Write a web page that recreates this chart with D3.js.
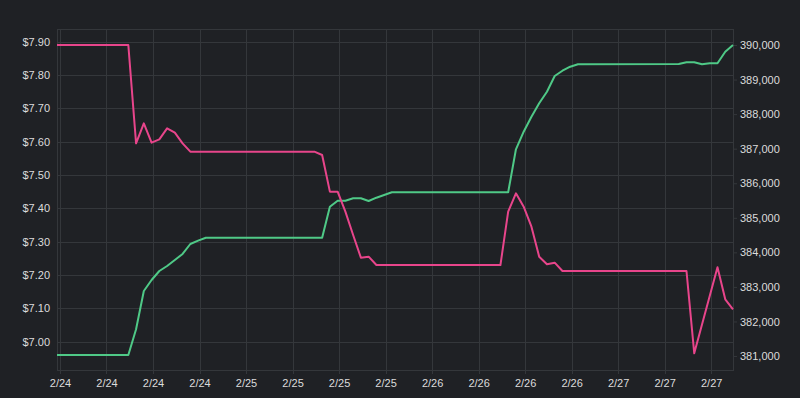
<!DOCTYPE html>
<html>
<head>
<meta charset="utf-8">
<script src="https://cdn.jsdelivr.net/npm/d3@7"></script>
<style>
  html, body { margin: 0; padding: 0; background: #1f2125; }
  svg { display: block; }
  text { font-family: "Liberation Sans", Arial, Helvetica, sans-serif; font-size: 11px; fill: #dcdcdc; }
</style>
</head>
<body>
<svg id="chart" width="800" height="398"></svg>
<script>
// ---- data (hour offsets from 2024-02-24 08:49 UTC) ----
const baseTime = Date.UTC(2024, 1, 24, 8, 49);

const priceHours = [-9.2, 0, 1, 2, 3, 4, 5, 6, 7, 8,
  24, 25, 26, 27, 28, 29, 30, 31, 32,
  48, 49, 50, 51, 52, 53, 54, 55, 56,
  72, 73, 76, 77, 78];
const priceValues = [7.89, 7.89, 7.595, 7.655, 7.597, 7.607, 7.64, 7.627, 7.595, 7.57,
  7.57, 7.56, 7.45, 7.45, 7.39, 7.32, 7.252, 7.255, 7.23,
  7.23, 7.39, 7.445, 7.405, 7.345, 7.255, 7.232, 7.237, 7.212,
  7.212, 6.965, 7.223, 7.127, 7.097];

const countHours = [-9.2, 0, 1, 2, 3, 4, 5, 6, 7, 8, 9, 10,
  25, 26, 27, 28, 29, 30, 31, 32, 33, 34,
  49, 50, 51, 52, 53, 54, 55, 56, 57, 58,
  71, 72, 73, 74, 75, 76, 77, 78];
const countValues = [381030, 381030, 381774, 382882, 383200, 383461, 383605, 383779, 383953, 384242, 384338, 384424,
  384424, 385321, 385495, 385495, 385564, 385564, 385486, 385582, 385660, 385738,
  385738, 386982, 387491, 387925, 388313, 388649, 389103, 389256, 389372, 389442,
  389450, 389500, 389500, 389442, 389470, 389470, 389806, 390000];

const leftTicks = [7.00, 7.10, 7.20, 7.30, 7.40, 7.50, 7.60, 7.70, 7.80, 7.90];
const rightTicks = [381000, 382000, 383000, 384000, 385000, 386000, 387000, 388000, 389000, 390000];
const xTickHours = 6;
const leftDomain = [6.915, 7.938];
const rightDomain = [380596, 390463];

// ---- layout ----
const L = 57, R = 733, T = 29, B = 370;
const gridColor = "#34373b";
const pink = "#e8458b";
const green = "#4fc987";

const svg = d3.select("#chart");
svg.append("rect").attr("width", 800).attr("height", 398).attr("fill", "#1f2125");

const toDate = h => new Date(baseTime + h * 3600000);
const allHours = priceHours.concat(countHours);
const x = d3.scaleUtc()
  .domain([toDate(d3.min(allHours)), toDate(d3.max(allHours))])
  .range([L, R]);
const yL = d3.scaleLinear().domain(leftDomain).range([B, T]);
const yR = d3.scaleLinear().domain(rightDomain).range([B, T]);

const xTicks = x.ticks(d3.utcHour.every(xTickHours));
const fmtX = d3.utcFormat("%-m/%-d");

// grid
const g = svg.append("g");
g.selectAll(".hg").data(leftTicks).join("line")
  .attr("x1", L).attr("x2", R)
  .attr("y1", d => Math.round(yL(d)) + 0.5).attr("y2", d => Math.round(yL(d)) + 0.5)
  .attr("stroke", gridColor).attr("stroke-width", 1);
g.selectAll(".vg").data(xTicks).join("line")
  .attr("x1", d => Math.round(x(d)) + 0.5).attr("x2", d => Math.round(x(d)) + 0.5)
  .attr("y1", T).attr("y2", B + 4)
  .attr("stroke", gridColor).attr("stroke-width", 1);
g.append("rect").attr("x", L + 0.5).attr("y", T + 0.5)
  .attr("width", R - L).attr("height", B - T)
  .attr("fill", "none").attr("stroke", gridColor);

// left axis
const leftAxis = d3.axisLeft(yL).tickValues(leftTicks).tickSize(0).tickPadding(7)
  .tickFormat(d => "$" + d3.format(".2f")(d));
svg.append("g").attr("transform", `translate(${L},0)`).call(leftAxis)
  .call(s => s.select(".domain").remove())
  .call(s => s.selectAll("text").attr("fill", "#dcdcdc").style("font-size", "11px"));

// right axis
const rightAxis = d3.axisRight(yR).tickValues(rightTicks).tickSize(4).tickPadding(3)
  .tickFormat(d3.format(","));
svg.append("g").attr("transform", `translate(${R},0)`).call(rightAxis)
  .call(s => s.select(".domain").remove())
  .call(s => s.selectAll("line").attr("stroke", gridColor))
  .call(s => s.selectAll("text").attr("fill", "#dcdcdc").style("font-size", "11px"));

// bottom axis
const bottomAxis = d3.axisBottom(x).tickValues(xTicks).tickSize(0).tickPadding(9)
  .tickFormat(fmtX);
svg.append("g").attr("transform", `translate(0,${B})`).call(bottomAxis)
  .call(s => s.select(".domain").remove())
  .call(s => s.selectAll("text").attr("fill", "#dcdcdc").style("font-size", "11px"));

// lines
const priceData = priceHours.map((h, i) => ({ t: toDate(h), v: priceValues[i] }));
const countData = countHours.map((h, i) => ({ t: toDate(h), v: countValues[i] }));

svg.append("path").datum(countData)
  .attr("fill", "none").attr("stroke", green).attr("stroke-width", 2)
  .attr("stroke-linejoin", "round")
  .attr("d", d3.line().x(d => x(d.t)).y(d => yR(d.v)));
svg.append("path").datum(priceData)
  .attr("fill", "none").attr("stroke", pink).attr("stroke-width", 2)
  .attr("stroke-linejoin", "round")
  .attr("d", d3.line().x(d => x(d.t)).y(d => yL(d.v)));
</script>
</body>
</html>
